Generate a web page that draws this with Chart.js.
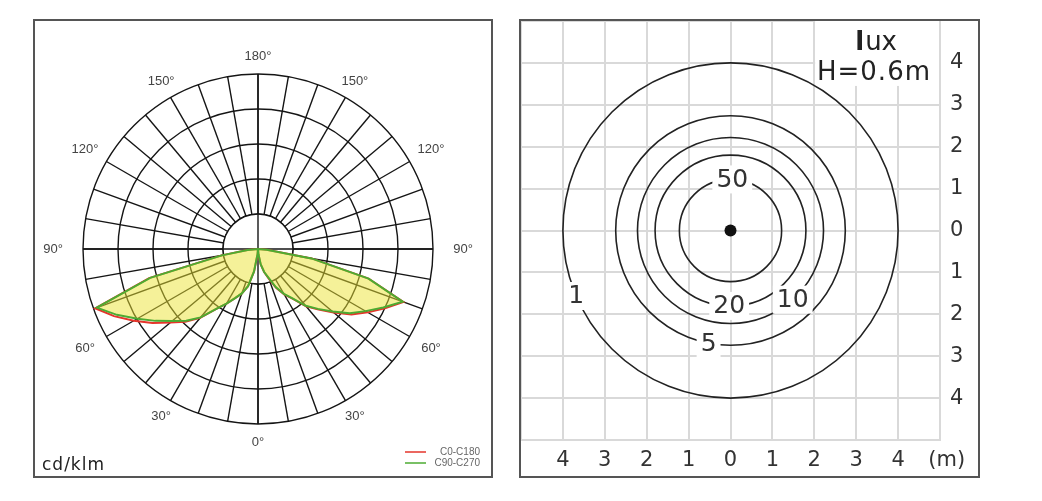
<!DOCTYPE html>
<html>
<head>
<meta charset="utf-8">
<script src="https://cdn.jsdelivr.net/npm/chart.js@4.4.1/dist/chart.umd.min.js"></script>
<style>
  body { margin: 0; background: #fff; width: 1042px; height: 501px; position: relative; overflow: hidden; }
  .frame { position: absolute; border: 2px solid #555; box-sizing: border-box; background: #fff; }
  #f1 { left: 33px; top: 19px; width: 460px; height: 459px; }
  #f2 { left: 519px; top: 19px; width: 461px; height: 459px; }
  canvas { display: block; }
</style>
</head>
<body>
<div class="frame" id="f1"><canvas id="polar" width="456" height="455"></canvas></div>
<div class="frame" id="f2"><canvas id="isolux" width="457" height="455"></canvas></div>
<script>
// ---- polar diagram: gamma angles (deg from nadir) and intensities in ring units ----
const gamma = [0, 5, 10, 15, 20, 25, 30, 35, 40, 45, 50, 55, 60, 65, 70, 75, 80, 85, 90,
               95, 100, 105, 110, 115, 120, 125, 130, 135, 140, 145, 150, 155, 160, 165, 170, 175, 180];
// C0-C180 plane (red)
const c0   = [0, 0.15, 0.45, 0.68, 0.9, 1.22, 1.5, 1.74, 2.14, 2.45, 2.82, 3.26, 3.62, 4.0, 4.42, 3.27, 1.55, 0.25, 0,
              0, 0, 0, 0, 0, 0, 0, 0, 0, 0, 0, 0, 0, 0, 0, 0, 0, 0];
const c180 = [0, 0.15, 0.65, 1.1, 1.35, 1.55, 1.8, 2.1, 2.57, 2.94, 3.27, 3.68, 4.1, 4.54, 4.95, 3.22, 1.05, 0.3, 0,
              0, 0, 0, 0, 0, 0, 0, 0, 0, 0, 0, 0, 0, 0, 0, 0, 0, 0];
// C90-C270 plane (green)
const c90  = [0, 0.15, 0.45, 0.68, 0.87, 1.2, 1.48, 1.72, 2.12, 2.42, 2.78, 3.2, 3.55, 3.95, 4.4, 3.27, 1.55, 0.25, 0,
              0, 0, 0, 0, 0, 0, 0, 0, 0, 0, 0, 0, 0, 0, 0, 0, 0, 0];
const c270 = [0, 0.15, 0.65, 1.1, 1.35, 1.55, 1.8, 2.1, 2.55, 2.9, 3.2, 3.58, 3.98, 4.45, 4.9, 3.19, 1.05, 0.3, 0,
              0, 0, 0, 0, 0, 0, 0, 0, 0, 0, 0, 0, 0, 0, 0, 0, 0, 0];
const angleTickPos = [0, 30, 60, 90, 120, 150, 180, 210, 240, 270, 300, 330]; // clockwise from top
const angleTickText = ['180°', '150°', '120°', '90°', '60°', '30°', '0°', '30°', '60°', '90°', '120°', '150°'];

// ---- isolux diagram ----
const luxLevels = [1, 5, 10, 20, 50];
const luxRadius = [4.0, 2.74, 2.22, 1.8, 1.22];      // metres
const luxLabelAngle = [203, 259, 312, 269, 88];       // where each label sits on its ring (deg)
const axisMin = -5, axisMax = 5;

// radar goes clockwise from the top: right half 180..0, then left half 5..175
const ring = (right, left) => right.slice().reverse().concat(left.slice(1, 36));
const radarLabels = ring(gamma, gamma).map(g => g + '°');

const polarDecor = {
  id: 'polarDecor',
  beforeDatasetsDraw(chart) {
    const s = chart.scales.r, ctx = chart.ctx;
    const r1 = s.getDistanceFromCenterForValue(1);
    const R = s.getDistanceFromCenterForValue(5);
    ctx.save();
    ctx.fillStyle = '#fff';
    ctx.beginPath();
    ctx.arc(s.xCenter, s.yCenter, r1, 0, Math.PI * 2);
    ctx.fill();
    ctx.strokeStyle = '#151515';
    ctx.lineWidth = 1.4;
    ctx.stroke();
    [0, 18].forEach(i => {
      const a = s.getPointPosition(i, R), b = s.getPointPosition(i + 36, R);
      ctx.beginPath();
      ctx.moveTo(a.x, a.y);
      ctx.lineTo(b.x, b.y);
      ctx.stroke();
    });
    ctx.restore();
  },
  afterDraw(chart) {
    const s = chart.scales.r, ctx = chart.ctx;
    const R = s.getDistanceFromCenterForValue(5);
    ctx.save();
    ctx.fillStyle = '#444';
    ctx.font = '13px "Liberation Sans", Arial, sans-serif';
    ctx.textAlign = 'center';
    ctx.textBaseline = 'middle';
    angleTickPos.forEach((deg, k) => {
      const sn = Math.abs(Math.sin(deg * Math.PI / 180));
      const p = s.getPointPosition(deg / 5, R + 18 + 12 * Math.pow(sn, 4));
      ctx.fillText(angleTickText[k], p.x, p.y);
    });
    // unit
    ctx.fillStyle = '#222';
    ctx.font = '17px "DejaVu Sans", sans-serif';
    ctx.letterSpacing = '1px';
    ctx.textAlign = 'left';
    ctx.textBaseline = 'alphabetic';
    ctx.fillText('cd/klm', 7, 449);
    ctx.letterSpacing = '0px';
    // legend
    ctx.font = '10px "Liberation Sans", Arial, sans-serif';
    ctx.textAlign = 'right';
    ctx.textBaseline = 'middle';
    chart.data.datasets.forEach((ds, i) => {
      const y = 431 + i * 11;
      ctx.strokeStyle = ds.borderColor;
      ctx.lineWidth = 1.5;
      ctx.beginPath();
      ctx.moveTo(370, y);
      ctx.lineTo(391, y);
      ctx.stroke();
      ctx.fillStyle = '#666';
      ctx.fillText(ds.label, 445, y);
    });
    ctx.restore();
  }
};

new Chart(document.getElementById('polar'), {
  type: 'radar',
  data: {
    labels: radarLabels,
    datasets: [
      {
        label: 'C0-C180',
        data: ring(c0, c180),
        borderColor: '#e5352b',
        borderWidth: 2,
        fill: false,
        order: 2
      },
      {
        label: 'C90-C270',
        data: ring(c90, c270),
        borderColor: '#4dab32',
        backgroundColor: 'rgba(236,228,52,0.5)',
        borderWidth: 2,
        fill: true,
        order: 1
      }
    ]
  },
  options: {
    responsive: false,
    animation: false,
    events: [],
    layout: { padding: { left: 48, top: 53, right: 58, bottom: 52 } },
    elements: { line: { tension: 0 }, point: { radius: 0 } },
    plugins: { legend: { display: false }, tooltip: { enabled: false } },
    scales: {
      r: {
        min: 0,
        max: 5,
        ticks: { display: false, stepSize: 1 },
        pointLabels: { display: false },
        grid: { circular: true, color: '#151515', lineWidth: 1.4 },
        angleLines: {
          color: ctx => (ctx.index % 2 ? 'rgba(0,0,0,0)' : '#151515'),
          lineWidth: 1.4
        }
      }
    }
  },
  plugins: [polarDecor]
});

// ---------------- isolux ----------------
const isoFont = '"DejaVu Sans", sans-serif';

const isoDecor = {
  id: 'isoDecor',
  beforeDatasetsDraw(chart) {
    const xs = chart.scales.x, ys = chart.scales.y, ctx = chart.ctx;
    // white header box over the grid
    const x0 = xs.getPixelForValue(2.02), y1 = ys.getPixelForValue(3.45);
    ctx.save();
    ctx.fillStyle = '#fff';
    ctx.fillRect(x0, 0, chart.chartArea.right - x0 - 1, y1);
    ctx.restore();
  },
  afterDatasetsDraw(chart) {
    const xs = chart.scales.x, ys = chart.scales.y, ctx = chart.ctx;
    ctx.save();
    ctx.font = '25px ' + isoFont;
    ctx.textAlign = 'center';
    ctx.textBaseline = 'middle';
    luxLevels.forEach((lv, i) => {
      const a = luxLabelAngle[i] * Math.PI / 180;
      const px = xs.getPixelForValue(luxRadius[i] * Math.cos(a));
      const py = ys.getPixelForValue(luxRadius[i] * Math.sin(a));
      const w = ctx.measureText(String(lv)).width + 8;
      ctx.fillStyle = '#fff';
      ctx.fillRect(px - w / 2, py - 14, w, 28);
      ctx.fillStyle = '#333';
      ctx.fillText(String(lv), px, py + 1);
    });
    // header
    ctx.textAlign = 'right';
    ctx.textBaseline = 'alphabetic';
    ctx.fillStyle = '#222';
    ctx.font = '26px ' + isoFont;
    const uxW = ctx.measureText('ux').width;
    ctx.fillText('ux', 376, 29);
    ctx.font = 'bold 26px ' + isoFont;
    ctx.fillText('l', 376 - uxW - 1, 29);
    ctx.font = '26px ' + isoFont;
    ctx.letterSpacing = '1px';
    ctx.fillText('H=0.6m', 410, 59);
    ctx.restore();
  }
};

new Chart(document.getElementById('isolux'), {
  type: 'scatter',
  data: {
    datasets: [
      {
        data: luxLevels.map(() => ({ x: 0, y: 0 })),
        pointRadius: ctx => {
          const xs = ctx.chart.scales.x;
          return Math.abs(xs.getPixelForValue(luxRadius[ctx.dataIndex]) - xs.getPixelForValue(0));
        },
        pointBackgroundColor: 'rgba(0,0,0,0)',
        pointBorderColor: '#222',
        pointBorderWidth: 1.6
      },
      {
        data: [{ x: 0, y: 0 }],
        pointRadius: 6,
        pointBackgroundColor: '#111',
        pointBorderWidth: 0
      }
    ]
  },
  options: {
    responsive: false,
    animation: false,
    events: [],
    layout: { padding: 0, autoPadding: false },
    plugins: { legend: { display: false }, tooltip: { enabled: false } },
    scales: {
      x: {
        type: 'linear',
        min: axisMin,
        max: axisMax,
        grid: { color: '#d9d9d9', lineWidth: 2, drawTicks: false },
        border: { color: '#d9d9d9', width: 2 },
        ticks: {
          stepSize: 1,
          autoSkip: false,
          maxRotation: 0,
          padding: 8,
          color: '#333',
          font: { family: isoFont, size: 21 },
          callback: v => (v === axisMax ? '  (m)' : v === axisMin ? '' : Math.abs(v))
        },
        afterFit: s => { s.height = 36; s.paddingLeft = 0; s.paddingRight = 0; }
      },
      y: {
        type: 'linear',
        position: 'right',
        min: axisMin,
        max: axisMax,
        grid: { color: '#d9d9d9', lineWidth: 2, drawTicks: false },
        border: { color: '#d9d9d9', width: 2 },
        ticks: {
          stepSize: 1,
          autoSkip: false,
          padding: 10,
          color: '#333',
          font: { family: isoFont, size: 21 },
          callback: v => (Math.abs(v) === axisMax ? '' : Math.abs(v))
        },
        afterFit: s => { s.width = 38; s.paddingTop = 0; s.paddingBottom = 0; }
      }
    }
  },
  plugins: [isoDecor]
});
</script>
</body>
</html>
